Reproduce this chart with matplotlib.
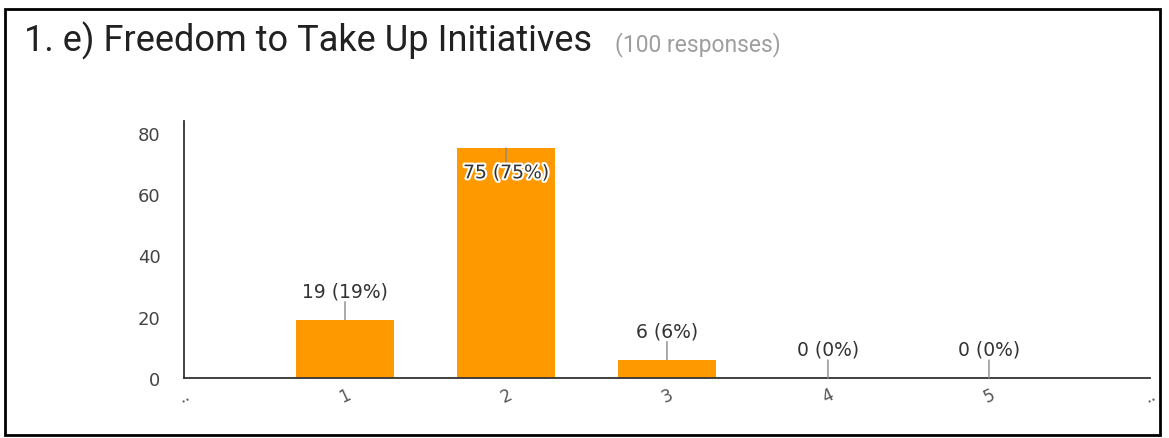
import matplotlib
matplotlib.use('Agg')
import matplotlib.pyplot as plt
import matplotlib.patheffects as pe
from matplotlib.patches import Rectangle

# survey answers
categories = [1, 2, 3, 4, 5]
counts = [19, 75, 6, 0, 0]
total = 100
tick_pos = [0, 1, 2, 3, 4, 5, 6]
tick_labels = ['..', '1', '2', '3', '4', '5', '..']

fig = plt.figure(figsize=(11.69, 4.39), dpi=100)
ax = fig.add_axes([0.1574, 0.1367, 0.8263, 0.5853])

ax.bar(categories, counts, width=0.61, color='#FF9900', zorder=2)

for x, v in zip(categories, counts):
    label = '%d (%d%%)' % (v, round(v * 100 / total))
    if v > 60:
        # label goes inside the tall bar
        ax.annotate('', xy=(x, v), xytext=(0, -11), textcoords='offset points',
                    arrowprops=dict(arrowstyle='-', color='#888888', lw=1, shrinkA=0, shrinkB=0))
        t = ax.annotate(label, xy=(x, v), xytext=(0, -11), textcoords='offset points',
                        ha='center', va='top', fontsize=13.5, color='#333333',
                        family='DejaVu Sans')
        t.set_path_effects([pe.withStroke(linewidth=3, foreground='white')])
    else:
        ax.annotate('', xy=(x, v), xytext=(0, 13), textcoords='offset points',
                    arrowprops=dict(arrowstyle='-', color='#888888', lw=1, shrinkA=0, shrinkB=0))
        ax.annotate(label, xy=(x, v), xytext=(0, 14), textcoords='offset points',
                    ha='center', va='bottom', fontsize=13.5, color='#333333',
                    family='DejaVu Sans')

ax.set_xlim(0, 6)
ax.set_ylim(0, 83.8)
ax.set_yticks([0, 20, 40, 60, 80])
ax.set_xticks(tick_pos)
ax.set_xticklabels(tick_labels, rotation=25, fontsize=12, color='#555555',
                   family='DejaVu Sans')
ax.tick_params(axis='both', length=0)
ax.tick_params(axis='y', pad=17, labelsize=13, labelcolor='#444444')
ax.tick_params(axis='x', pad=5)
for lab in ax.get_yticklabels():
    lab.set_family('DejaVu Sans')
for s in ['top', 'right']:
    ax.spines[s].set_visible(False)
for s in ['left', 'bottom']:
    ax.spines[s].set_color('#333333')
    ax.spines[s].set_linewidth(1.3)

fig.text(0.0205, 0.883, '1. e) Freedom to Take Up Initiatives', fontsize=26,
         family='Roboto', color='#212121', va='baseline')
fig.text(0.526, 0.883, '(100 responses)', fontsize=16.5, family='Roboto',
         color='#9e9e9e', va='baseline')

# outer frame
fig.patches.append(Rectangle((0.0043, 0.007), 0.9877, 0.97, transform=fig.transFigure,
                             fill=False, edgecolor='black', linewidth=2))

fig.savefig('out.png', dpi=100)
